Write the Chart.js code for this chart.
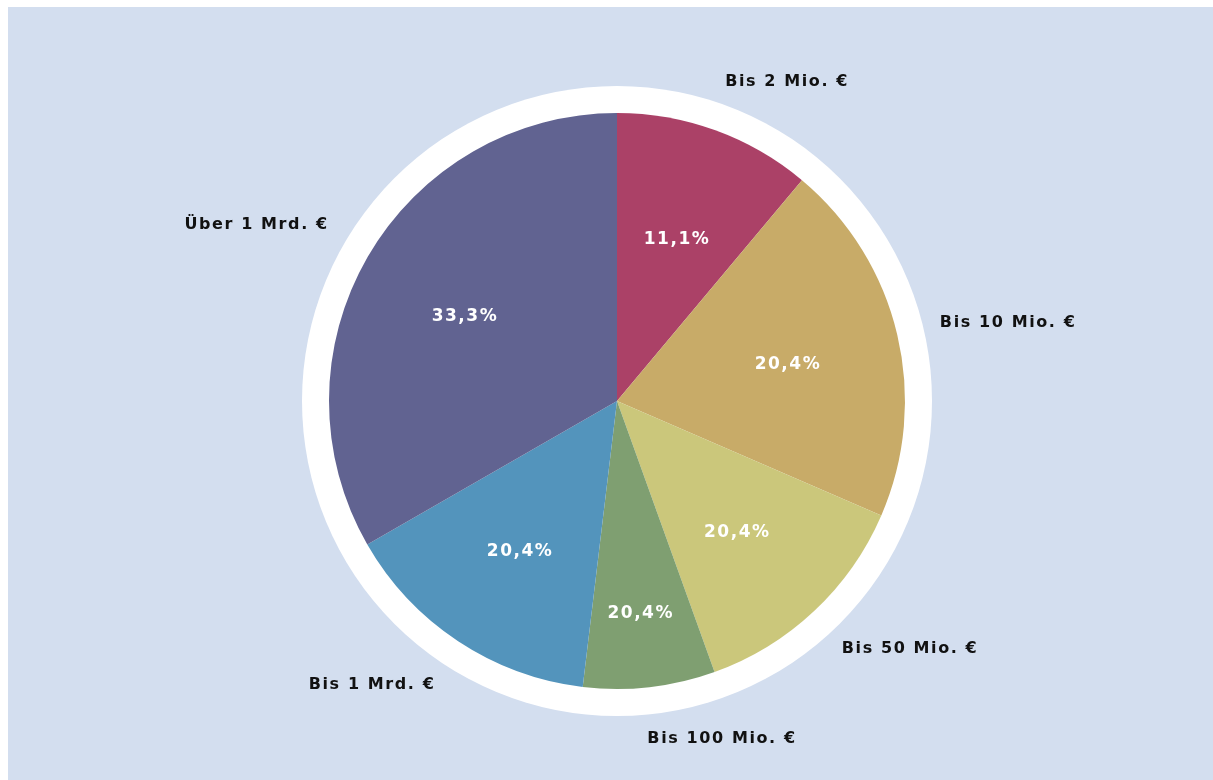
<!DOCTYPE html>
<html lang="de">
<head>
<meta charset="utf-8">
<title>Umsatzklassen</title>
<script src="https://cdn.jsdelivr.net/npm/chart.js@4/dist/chart.umd.min.js"></script>
<style>
    html, body { margin: 0; padding: 0; background: #ffffff; }
    #panel {
        position: absolute;
        left: 8px;
        top: 7px;
        width: 1205px;
        height: 773px;
        background: #d3deef;
    }
    #panel canvas { display: block; }
</style>
</head>
<body>
<div id="panel"><canvas id="revenueChart"></canvas></div>
<script>
// Umsatzklassen und Anteile der Unternehmen
const categories = ["Bis 2 Mio. €", "Bis 10 Mio. €", "Bis 50 Mio. €", "Bis 100 Mio. €", "Bis 1 Mrd. €", "Über 1 Mrd. €"];
const shares = [11.1, 20.4, 13.0, 7.4, 14.8, 33.3];
const shareLabels = ["11,1%", "20,4%", "20,4%", "20,4%", "20,4%", "33,3%"];
const sliceColors = ["#ab4167", "#c8ab68", "#cbc77b", "#7f9f71", "#5394bc", "#616391"];

document.addEventListener("DOMContentLoaded", () => {
    const ringWidth = 27;

    // white ring behind the pie
    const ringPlugin = {
        id: "ring",
        beforeDatasetsDraw(chart) {
            const arc = chart.getDatasetMeta(0).data[0];
            if (!arc) return;
            const ctx = chart.ctx;
            ctx.save();
            ctx.beginPath();
            ctx.arc(arc.x, arc.y, arc.outerRadius + ringWidth, 0, Math.PI * 2);
            ctx.fillStyle = "#ffffff";
            ctx.fill();
            ctx.restore();
        }
    };

    // category names outside, percentages inside the slices
    const labelPlugin = {
        id: "sliceLabels",
        afterDatasetsDraw(chart) {
            const ctx = chart.ctx;
            const meta = chart.getDatasetMeta(0);
            ctx.save();
            ctx.textBaseline = "middle";
            meta.data.forEach((arc, i) => {
                const mid = (arc.startAngle + arc.endAngle) / 2;
                const span = arc.endAngle - arc.startAngle;
                const cos = Math.cos(mid), sin = Math.sin(mid);

                const inner = arc.outerRadius * (span < 0.5 ? 0.73 : 0.61);
                ctx.font = "bold 17px 'DejaVu Sans'";
                ctx.letterSpacing = "1.5px";
                ctx.fillStyle = "#ffffff";
                ctx.textAlign = "center";
                ctx.fillText(shareLabels[i], arc.x + cos * inner, arc.y + sin * inner + 4);

                const outer = arc.outerRadius + 52;
                ctx.font = "bold 16px 'DejaVu Sans'";
                ctx.letterSpacing = "1.6px";
                ctx.fillStyle = "#111111";
                ctx.textAlign = cos >= 0 ? "left" : "right";
                const dx = cos >= 0 ? -8 : 6;
                const dy = sin < 0 && cos < 0 ? -6 : 0;
                ctx.fillText(categories[i], arc.x + cos * outer + dx, arc.y + sin * outer + dy);
            });
            ctx.restore();
        }
    };

    const chartCanvas = document.getElementById("revenueChart").getContext("2d");
    new Chart(chartCanvas, {
        type: "pie",
        data: {
            labels: categories,
            datasets: [{
                data: shares,
                backgroundColor: sliceColors,
                borderWidth: 0
            }]
        },
        options: {
            responsive: true,
            maintainAspectRatio: false,
            animation: false,
            layout: {
                padding: { top: 106, bottom: 91, left: 300, right: 287 }
            },
            plugins: {
                legend: { display: false },
                tooltip: { enabled: false }
            }
        },
        plugins: [ringPlugin, labelPlugin]
    });
});
</script>
</body>
</html>
